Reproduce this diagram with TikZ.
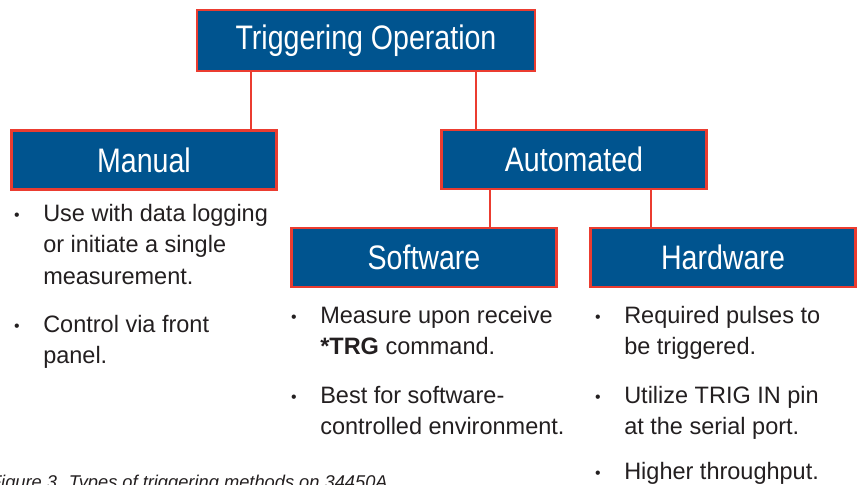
\documentclass[tikz,border=0pt]{standalone}
\usepackage{fontspec}
\setmainfont{Liberation Sans}[FakeStretch=0.99]
\newfontfamily\headfont{Liberation Sans}[FakeStretch=0.84]
\usetikzlibrary{positioning}
\definecolor{boxblue}{RGB}{0,84,143}
\definecolor{boxred}{RGB}{235,60,48}
\definecolor{textgray}{RGB}{35,31,32}
\newcommand{\itemlines}[1]{\begin{tabular}[t]{@{}l@{}}#1\end{tabular}}
\tikzset{
  headbox/.style={draw=boxred,fill=boxblue,line width=1.9pt,inner sep=0pt,
    minimum width=199pt,minimum height=44.5pt,text=white,
    font=\headfont\fontsize{25.5}{28}\selectfont},
  link/.style={draw=boxred,line width=1.9pt},
  itemtext/.style={anchor=base west,inner sep=0pt,text=textgray,
    font=\fontsize{17.8}{23.7}\selectfont},
  itemdot/.style={anchor=base,inner sep=0pt,text=textgray,
    font=\fontsize{12}{12}\selectfont}
}
\begin{document}
\begin{tikzpicture}[x=0.75pt,y=-0.75pt]
\useasboundingbox (0,0) rectangle (857,485);
\clip (0,0) rectangle (857,485);
% boxes
\node[headbox,minimum width=253.5pt,minimum height=45.75pt](TOP) at (366,40.5){Triggering Operation};
\node[headbox](MAN) at (144,160){Manual};
\node[headbox](AUTO) at (574,159.5){Automated};
\node[headbox](SW) at (424,257.5){Software};
\node[headbox](HW) at (723,257.5){Hardware};
% connectors
\coordinate (XM) at (251,0);
\coordinate (XA) at (476,0);
\coordinate (XS) at (490,0);
\coordinate (XH) at (651,0);
\draw[link](TOP.south -| XM) -- (MAN.north -| XM);
\draw[link](TOP.south -| XA) -- (AUTO.north -| XA);
\draw[link](AUTO.south -| XS) -- (SW.north -| XS);
\draw[link](AUTO.south -| XH) -- (HW.north -| XH);
% manual items
\node[itemdot](MD1) at (17,220){\textbullet};
\node[itemtext](M1) at (43,221){\itemlines{Use with data logging\\or initiate a single\\measurement.}};
\node[itemdot](MD2) at (17,331){\textbullet};
\node[itemtext](M2) at (43,332){\itemlines{Control via front\\panel.}};
% software items
\node[itemdot](SD1) at (294,322){\textbullet};
\node[itemtext](S1) at (320,323){\itemlines{Measure upon receive\\\textbf{*TRG} command.}};
\node[itemdot](SD2) at (294,402){\textbullet};
\node[itemtext](S2) at (320,403){\itemlines{Best for software-\\controlled environment.}};
% hardware items
\node[itemdot](HD1) at (598,322){\textbullet};
\node[itemtext](H1) at (624,323){\itemlines{Required pulses to\\be triggered.}};
\node[itemdot](HD2) at (598,402){\textbullet};
\node[itemtext](H2) at (624,403){\itemlines{Utilize TRIG IN pin\\at the serial port.}};
\node[itemdot](HD3) at (598,478){\textbullet};
\node[itemtext](H3) at (624,479){Higher throughput.};
% caption
\node[anchor=base east,inner sep=0pt,text=textgray,font=\fontsize{13.85}{16}\selectfont\itshape](CAP) at (388,488){Figure 3. Types of triggering methods on 34450A};
\end{tikzpicture}
\end{document}
